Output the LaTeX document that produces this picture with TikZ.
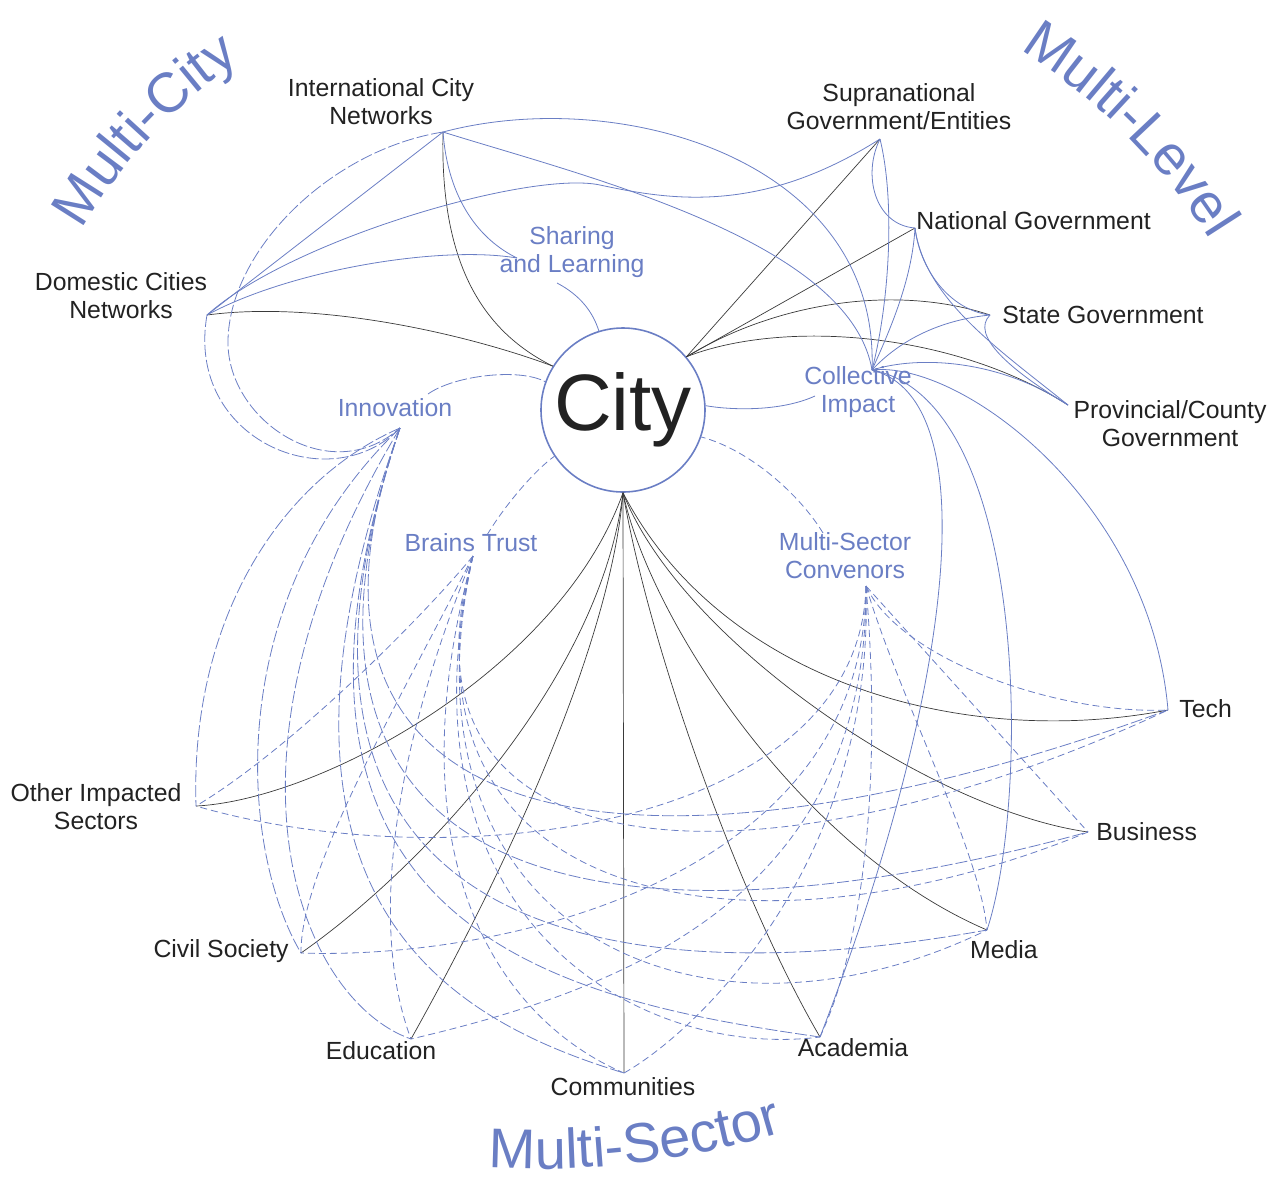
\documentclass[tikz,border=0pt]{standalone}
\usepackage{fontspec}
\setmainfont{Liberation Sans}
\usetikzlibrary{decorations.text}
\definecolor{netblue}{HTML}{6A7EC4}
\definecolor{inkgray}{HTML}{222222}
\definecolor{wiregray}{HTML}{3A3A3A}
\tikzset{
  lbl/.style={font=\fontsize{12.4}{14}\selectfont, text=inkgray, align=center, inner sep=0pt},
  hublbl/.style={lbl, text=netblue},
  cityln/.style={draw=wiregray, line width=0.35pt},
  netln/.style={draw=netblue, line width=0.4pt},
  innovln/.style={netln, dash pattern=on 6pt off 1.5pt},
  trustln/.style={netln, dash pattern=on 3.5pt off 2pt},
  grouptitle/.style={decorate, decoration={text along path, text align=center,
      text color=netblue, text={|\fontsize{28}{33}\selectfont|#1}}}
}
\begin{document}
\begin{tikzpicture}[x=0.5pt,y=-0.5pt]
				\useasboundingbox (0,0) rectangle (1271,1180);
				% group titles
				\path[grouptitle=Multi-City] ([shift={(520,480)}]-162:504) arc[start angle=-162, end angle=-112, radius=504];
				\path[grouptitle=Multi-Level] ([shift={(700,560)}]-75:602) arc[start angle=-75, end angle=-15, radius=602];
				\path[grouptitle=Multi-Sector] ([shift={(537,319)}]-252.8:850) arc[start angle=-252.8, end angle=-300.8, radius=850];
				
				\node[circle, draw=netblue, line width=0.8pt, minimum size=82pt, inner sep=0pt,
				  font=\fontsize{40}{40}\selectfont, text=inkgray] (city) at (623,410) {City};
				
				% end points of the outer nodes
				\foreach \x/\y/\z in
				{icn/443/132, dcn/207/315, supra/880/139, nat/915/228, state/990/315, prov/1068/405,
				 tech/1168/710, bus/1088/832, media/987/930, acad/820/1037, comm/624/1073,
				 edu/411/1039, civil/301/953, other/196/806}{
					\coordinate(\x) at (\y,\z);
				}
				% hub points
				\foreach \x/\y/\z in
				{shareIn/517/258, shareOut/557/283, innov/400/428, innovOut/428/394,
				 trust/473/556, trustOut/487/535, msec/866/586, msecOut/823/533,
				 coll/872/370, collOut/815/396}{
					\coordinate(\x) at (\y,\z);
				}
				
				% labels
				\node[lbl] (icnL) at (381,102) {International City\\Networks};
				\node[lbl] (dcnL) at (121,296) {Domestic Cities\\Networks};
				\node[lbl] (supraL) at (899,107) {Supranational\\Government/Entities};
				\node[lbl, anchor=west] (natL) at (916,221) {National Government};
				\node[lbl, anchor=west] (stateL) at (1002,315) {State Government};
				\node[lbl] (provL) at (1170,424) {Provincial/County\\Government};
				\node[lbl, anchor=west] (techL) at (1179,709) {Tech};
				\node[lbl, anchor=west] (busL) at (1096,832) {Business};
				\node[lbl] (mediaL) at (1004,950) {Media};
				\node[lbl] (acadL) at (853,1048) {Academia};
				\node[lbl] (commL) at (623,1087) {Communities};
				\node[lbl] (eduL) at (381,1051) {Education};
				\node[lbl, anchor=east] (civilL) at (289,951) {Civil Society};
				\node[lbl] (otherL) at (96,807) {Other Impacted\\Sectors};
				
				\node[hublbl] (shareL) at (572,252) {Sharing\\and Learning};
				\node[hublbl] (innovL) at (395,408) {Innovation};
				\node[hublbl] (trustL) at (471,543) {Brains Trust};
				\node[hublbl] (msecL) at (845,556) {Multi-Sector\\Convenors};
				\node[hublbl] (collL) at (858,392) {Collective\\Impact};
				
				% city to its partners
				\draw[cityln] (city.148) .. controls (480,330) and (440,260) .. (icn);
				\draw[cityln] (city.148) .. controls (470,335) and (320,300) .. (dcn);
				\draw[cityln] (city.40) -- (supra);
				\draw[cityln] (city.40) -- (nat);
				\draw[cityln] (city.40) .. controls (780,300) and (900,285) .. (state);
				\draw[cityln] (city.40) .. controls (780,320) and (950,330) .. (prov);
				\foreach \t/\ax/\ay/\bx/\by in
				{tech/720/680/960/750, bus/680/640/930/810, media/650/620/800/850,
				 acad/650/650/740/900, edu/610/650/500/880, civil/600/680/420/870,
				 other/560/670/320/800}{
					\draw[cityln] (city.south) .. controls (\ax,\ay) and (\bx,\by) .. (\t);
				}
				\draw[cityln] (city.south) -- (comm);
				
				% multi-city
				\draw[netln] (dcn) -- (icn);
				\draw[netln] (dcn) .. controls (290,270) and (440,245) .. (shareIn);
				\draw[netln] (icn) .. controls (448,200) and (480,240) .. (shareIn);
				\draw[netln] (shareOut) .. controls (580,295) and (593,312) .. (city.107);
				\draw[netln] (icn) .. controls (620,85) and (880,160) .. (coll);
				\draw[netln] (icn) .. controls (580,175) and (850,240) .. (coll);
				\draw[netln] (dcn) .. controls (290,240) and (530,170) .. (600,185)
				  .. controls (670,200) and (760,215) .. (supra);
				\draw[innovln] (dcn) .. controls (185,440) and (330,500) .. (innov);
				\draw[innovln] (icn) .. controls (330,150) and (230,250) .. (228,340)
				  .. controls (226,420) and (330,490) .. (innov);
				
				% multi-level
				\foreach \x/\ax/\ay/\bx/\by in
				{supra/895/200/890/300, nat/912/280/890/330, state/940/320/900/340,
				 prov/1000/360/920/355}{
					\draw[netln] (\x) .. controls (\ax,\ay) and (\bx,\by) .. (coll);
				}
				\draw[netln] (supra) .. controls (862,175) and (875,225) .. (nat);
				\draw[netln] (nat) .. controls (920,270) and (950,310) .. (state);
				\draw[netln] (state) .. controls (970,335) and (1010,370) .. (prov);
				\draw[netln] (nat) .. controls (925,300) and (1000,350) .. (prov);
				\draw[netln] (collOut) .. controls (780,412) and (730,410) .. (city.3);
				\draw[netln] (coll) .. controls (960,360) and (1150,500) .. (tech);
				\draw[netln] (coll) .. controls (1030,400) and (1030,800) .. (media);
				\draw[netln] (coll) .. controls (990,400) and (950,700) .. (acad);
				
				% multi-sector hubs
				\draw[innovln] (innovOut) .. controls (455,375) and (520,368) .. (city.160);
				\draw[trustln] (trustOut) .. controls (505,505) and (535,470) .. (city.214);
				\draw[trustln] (msecOut) .. controls (800,495) and (750,450) .. (city.341);
				
				\foreach \t/\ax/\ay/\bx/\by in
				{other/280/480/190/620, civil/220/600/240/850, edu/200/760/300/1000,
				 comm/230/900/450/1020, acad/230/930/560/1000, media/230/930/600/1000,
				 bus/240/900/620/960, tech/250/850/650/900}{
					\draw[innovln] (innov) .. controls (\ax,\ay) and (\bx,\by) .. (\t);
				}
				\foreach \t/\ax/\ay/\bx/\by in
				{other/420/620/290/750, civil/400/700/300/870, edu/390/760/370/930,
				 comm/390/860/500/1020, acad/390/920/640/1060, media/390/930/700/1070,
				 bus/385/900/740/975, tech/380/880/760/900}{
					\draw[trustln] (trust) .. controls (\ax,\ay) and (\bx,\by) .. (\t);
				}
				\foreach \t/\ax/\ay/\bx/\by in
				{tech/900/660/1060/715, media/900/700/980/850, acad/880/750/870/930,
				 comm/875/860/700/1030, edu/868/900/620/990, civil/865/880/500/960,
				 other/860/830/450/880}{
					\draw[trustln] (msec) .. controls (\ax,\ay) and (\bx,\by) .. (\t);
				}
				\draw[trustln] (msec) -- (bus);
			\end{tikzpicture}
\end{document}
